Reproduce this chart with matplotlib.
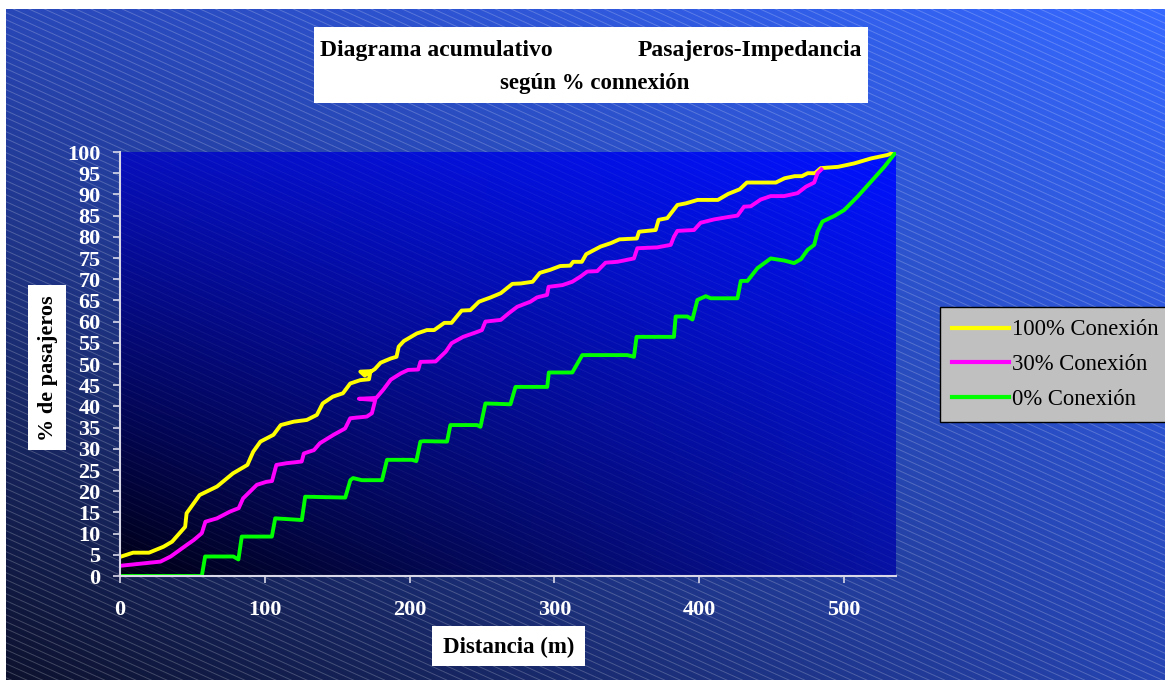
import matplotlib.pyplot as plt
import numpy as np
from matplotlib.collections import LineCollection
from matplotlib.patches import Rectangle

# data (distance in m, cumulative % of passengers)
x_100 = [0, 9, 20, 30, 36, 45, 46, 55, 67, 78, 88, 92, 97, 106, 111, 120, 129, 136,
         140, 147, 154, 159, 166, 172, 173, 166, 169, 176, 180, 187, 191, 192.5, 196,
         205, 212, 217, 224, 229, 236, 242, 248, 256, 263, 271, 277, 285, 290, 297,
         304, 311, 313, 319, 322, 332, 339, 345, 357, 358.5, 370, 372, 378, 385, 391,
         399, 413, 420, 428, 433, 453, 459, 466, 471, 475, 480, 484, 496, 507, 519,
         530, 536]
y_100 = [4.5, 5.5, 5.5, 6.9, 8.1, 11.6, 14.8, 19.1, 21.1, 24.2, 26.2, 29.3, 31.7, 33.3,
         35.6, 36.4, 36.8, 38, 40.7, 42.3, 43.1, 45.4, 46.2, 46.4, 48.3, 48.2, 47.3, 48.8,
         50.3, 51.3, 51.7, 54.1, 55.4, 57.2, 58, 58, 59.7, 59.7, 62.6, 62.7, 64.7, 65.7,
         66.7, 68.9, 69, 69.4, 71.5, 72.2, 73.1, 73.2, 74.1, 74.1, 75.9, 77.7, 78.5,
         79.4, 79.6, 81.2, 81.6, 84, 84.4, 87.5, 87.9, 88.7, 88.7, 90.1, 91.2, 92.8,
         92.8, 93.8, 94.3, 94.3, 95, 95, 96.2, 96.5, 97.3, 98.5, 99.3, 100]

x_30 = [0, 28, 35, 46, 51, 56.5, 59, 67, 76, 82, 85, 94.5, 101, 105, 108, 115, 125.5,
        127, 134, 138, 147.5, 155.5, 159, 170.5, 174, 176.3, 165, 177, 182, 187, 194,
        199, 206, 207.5, 218, 225, 229, 237, 247, 250, 252.4, 263, 268.6, 274.4,
        283.5, 288, 295, 296, 305.5, 312.4, 318, 322.7, 329.6, 335.4, 343.5, 355,
        357.3, 371, 380.4, 382.6, 385, 396.5, 401, 410.3, 420.7, 426.5, 431, 435.7,
        442.6, 449.5, 458.7, 468, 473.7, 479.5, 481.8, 484.5]
y_30 = [2.4, 3.4, 4.6, 7.3, 8.5, 10.1, 12.8, 13.6, 15.2, 16, 18.3, 21.5, 22.2, 22.4,
        26.2, 26.6, 27, 28.9, 29.7, 31.3, 33.3, 34.8, 37.2, 37.6, 38.4, 41.5, 41.8, 42,
        44, 46.3, 47.8, 48.6, 48.7, 50.5, 50.6, 52.9, 54.9, 56.4, 57.6, 58, 60, 60.4,
        62, 63.5, 64.7, 65.7, 66.3, 68.2, 68.6, 69.4, 70.6, 71.8, 71.9, 73.9, 74.1,
        74.9, 77.3, 77.5, 78.1, 80, 81.4, 81.6, 83.3, 84.1, 84.7, 85, 87.1, 87.2,
        88.8, 89.6, 89.6, 90.3, 91.8, 92.8, 95, 95.9]

x_0 = [0, 56.5, 58.8, 78.3, 81.8, 84.1, 104.9, 107.2, 125.6, 127.9, 155.6, 159.1,
       161, 167, 181, 184.4, 201.7, 204.7, 207.5, 210, 225.9, 228.2, 246.7, 249,
       252.4, 269.7, 273.2, 295.1, 296.2, 312.4, 319.3, 350.4, 355, 356.8, 382.6,
       383.8, 391.9, 395.4, 398.8, 404.6, 408, 426.5, 428.8, 433.4, 440.3, 449.5,
       458.7, 465.6, 470.3, 474.9, 479.5, 481.8, 485.2, 493.3, 500.2, 509.5, 518.7,
       527.9, 536]
y_0 = [0, 0, 4.6, 4.6, 3.9, 9.3, 9.3, 13.6, 13.2, 18.7, 18.5, 22.6, 23.1, 22.6, 22.6,
       27.4, 27.4, 27.1, 31.7, 31.8, 31.7, 35.6, 35.6, 35.2, 40.7, 40.5, 44.6, 44.6,
       48, 48, 52.1, 52.1, 51.7, 56.4, 56.4, 61.2, 61.2, 60.5, 65.1, 66, 65.5, 65.5,
       69.6, 69.6, 72.6, 74.9, 74.4, 73.8, 74.7, 76.9, 78.1, 81.2, 83.6, 84.9, 86.3,
       89.5, 93, 96.5, 100]

labels = ['100% Conexión', '30% Conexión', '0% Conexión']
colors = ['#ffff00', '#ff00ff', '#00ff00']

W, H = 1165, 680
PL, PR, PT, PB = 120, 896, 152, 576   # plot area in pixels

plt.rcParams['font.family'] = ['Liberation Serif', 'DejaVu Serif']

fig = plt.figure(figsize=(W / 100, H / 100), dpi=100, facecolor='white')

# background layer in pixel coordinates
bg = fig.add_axes([0, 0, 1, 1])
bg.set_xlim(0, W)
bg.set_ylim(H, 0)
bg.axis('off')


def corner_gradient(tl, tr, bl, br, n=160):
    u = np.linspace(0, 1, n)[None, :, None]
    v = np.linspace(0, 1, n)[:, None, None]
    tl, tr, bl, br = [np.array(c)[None, None, :] for c in (tl, tr, bl, br)]
    top = tl * (1 - u) + tr * u
    bot = bl * (1 - u) + br * u
    return top * (1 - v) + bot * v


outer = corner_gradient((0.16, 0.28, 0.72), (0.21, 0.41, 1.0),
                        (0.05, 0.07, 0.18), (0.15, 0.27, 0.70))
bg.imshow(outer, extent=(6, W, H, 9), aspect='auto', interpolation='bilinear', zorder=0)

offsets = np.arange(-620, H + 10, 7)
segs = [[(0, o), (W, o + 0.45 * W)] for o in offsets]
stripes = LineCollection(segs, colors=[(1, 1, 1, 0.17)], linewidths=0.7, zorder=1)
stripes.set_clip_path(Rectangle((6, 9), W - 6, H - 9, transform=bg.transData))
bg.add_collection(stripes)

inner = corner_gradient((0.03, 0.06, 0.74), (0.0, 0.07, 1.0),
                        (0.0, 0.0, 0.08), (0.03, 0.07, 0.64))
bg.imshow(inner, extent=(PL, PR, PB, PT), aspect='auto', interpolation='bilinear', zorder=2)
stripes2 = LineCollection(segs, colors=[(1, 1, 1, 0.05)], linewidths=0.7, zorder=3)
stripes2.set_clip_path(Rectangle((PL, PT), PR - PL, PB - PT, transform=bg.transData))
bg.add_collection(stripes2)

# title box
bg.add_patch(Rectangle((314, 27), 554, 76, facecolor='white', edgecolor='none', zorder=5))
bg.text(320, 56, 'Diagrama acumulativo', fontsize=17, fontweight='bold', ha='left',
        va='baseline', zorder=6)
bg.text(862, 56, 'Pasajeros-Impedancia', fontsize=17, fontweight='bold', ha='right',
        va='baseline', zorder=6)
bg.text(595, 89, 'según % connexión', fontsize=16.5, fontweight='bold', ha='center',
        va='baseline', zorder=6)

# axis label boxes
bg.add_patch(Rectangle((28, 285), 38, 165, facecolor='white', edgecolor='none', zorder=5))
bg.text(48, 368, '% de pasajeros', fontsize=16, fontweight='bold', rotation=90,
        ha='center', va='center', zorder=6)
bg.add_patch(Rectangle((432, 626), 153, 40, facecolor='white', edgecolor='none', zorder=5))
bg.text(509, 647, 'Distancia (m)', fontsize=16.5, fontweight='bold', ha='center',
        va='center', zorder=6)

# main axes
ax = fig.add_axes([PL / W, 1 - PB / H, (PR - PL) / W, (PB - PT) / H])
ax.patch.set_alpha(0)
ax.plot(x_100, y_100, color=colors[0], lw=2.8, solid_joinstyle='round', label=labels[0])
ax.plot(x_30, y_30, color=colors[1], lw=2.8, solid_joinstyle='round', label=labels[1])
ax.plot(x_0, y_0, color=colors[2], lw=2.8, solid_joinstyle='round', label=labels[2])

ax.set_xlim(0, 536)
ax.set_ylim(0, 100)
ax.set_xticks(range(0, 501, 100))
ax.set_yticks(range(0, 101, 5))
for s in ['top', 'right']:
    ax.spines[s].set_visible(False)
for s in ['left', 'bottom']:
    ax.spines[s].set_color('#d8d8e8')
    ax.spines[s].set_linewidth(1.5)
ax.tick_params(axis='both', colors='#d8d8e8', length=5, width=1.2, direction='out')
ax.tick_params(axis='y', pad=9)
ax.tick_params(axis='x', pad=12)
for lab in ax.get_xticklabels() + ax.get_yticklabels():
    lab.set_color('white')
    lab.set_fontweight('bold')
    lab.set_fontsize(16)

leg = ax.legend(loc='upper left', bbox_to_anchor=(940 / W, 1 - 307 / H),
                bbox_transform=fig.transFigure, borderaxespad=0, fancybox=False,
                facecolor='#c0c0c0', edgecolor='black', framealpha=1,
                prop={'size': 16.3}, handlelength=2.5, handletextpad=0.15,
                labelspacing=0.6, borderpad=0.55)
leg.get_frame().set_linewidth(1.0)
for line in leg.get_lines():
    line.set_linewidth(3)

fig.savefig('out.png', dpi=100, facecolor='white')
